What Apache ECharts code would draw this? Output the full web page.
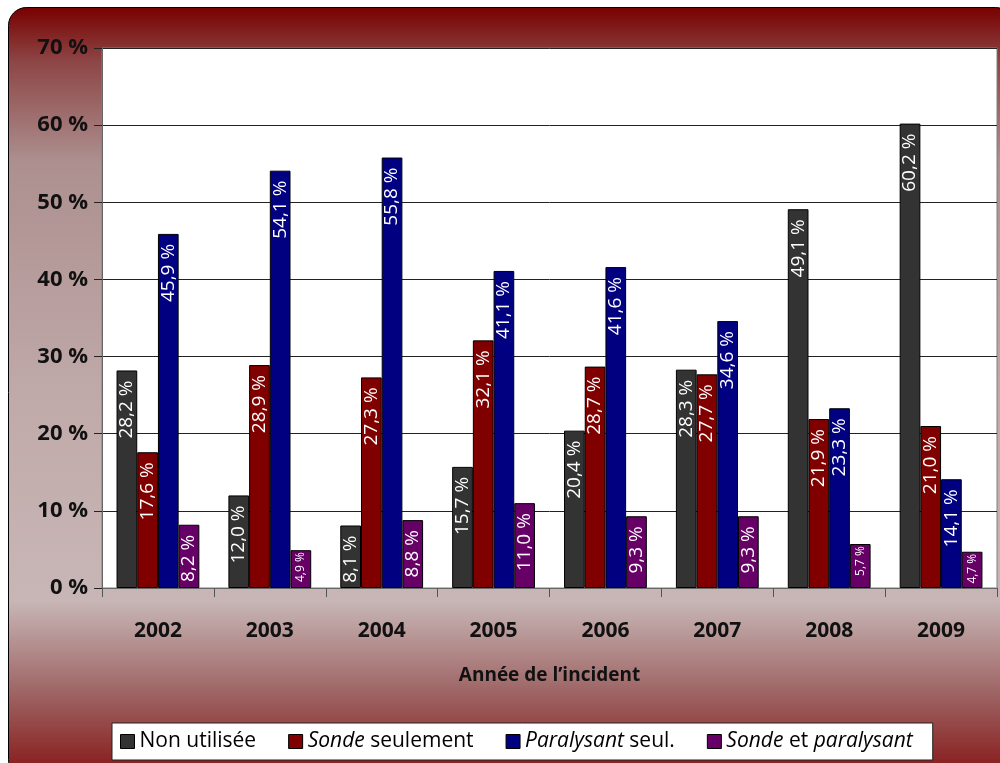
<!DOCTYPE html>
<html>
<head>
<meta charset="utf-8">
<script src="https://cdn.jsdelivr.net/npm/echarts@6/dist/echarts.min.js"></script>
<style>
html,body{margin:0;padding:0;background:#fff;}
#c{width:1000px;height:763px;}
</style>
</head>
<body>
<div id="c"></div>
<script>
const categories = ['2002','2003','2004','2005','2006','2007','2008','2009'];
const seriesNames = ['Non utilisée','Sonde seulement','Paralysant seul.','Sonde et paralysant'];
const legendLabels = ['Non utilisée','{i|Sonde} seulement','{i|Paralysant} seul.','{i|Sonde} et {i|paralysant}'];
const nonUtilisee = [28.2, 12.0, 8.1, 15.7, 20.4, 28.3, 49.1, 60.2];
const sondeSeulement = [17.6, 28.9, 27.3, 32.1, 28.7, 27.7, 21.9, 21.0];
const paralysantSeul = [45.9, 54.1, 55.8, 41.1, 41.6, 34.6, 23.3, 14.1];
const sondeEtParalysant = [8.2, 4.9, 8.8, 11.0, 9.3, 9.3, 5.7, 4.7];
const yTicks = [0, 10, 20, 30, 40, 50, 60, 70];
const colors = ['#333333', '#800000', '#000080', '#660066'];
const allValues = [nonUtilisee, sondeSeulement, paralysantSeul, sondeEtParalysant];

const chart = echarts.init(document.getElementById('c'));
const FONT = '"Open Sans", "DejaVu Sans", sans-serif';
const fmt = p => p.value.toFixed(1).replace('.', ',') + ' %';

const option = {
  animation: false,
  graphic: [{
    type: 'rect',
    z: -10,
    silent: true,
    shape: {x: 8.5, y: 7.5, width: 1005, height: 770, r: 18},
    style: {
      stroke: '#000', lineWidth: 1,
      fill: new echarts.graphic.LinearGradient(0, 0, 0, 1, [
        {offset: 0, color: '#780000'},
        {offset: 0.07, color: '#8d4545'},
        {offset: 0.2, color: '#ad8f8f'},
        {offset: 0.5, color: '#c0a9a9'},
        {offset: 0.77, color: '#c8b6b6'},
        {offset: 0.89, color: '#9e6464'},
        {offset: 1, color: '#861515'}
      ])
    }
  }],
  grid: {
    left: 102, right: 3, top: 48, bottom: 175,
    show: true, backgroundColor: '#ffffff', borderColor: '#808080', borderWidth: 1,
    containLabel: false
  },
  legend: {
    data: seriesNames,
    left: 112, top: 723,
    backgroundColor: '#ffffff',
    borderColor: '#222', borderWidth: 1,
    padding: [8, 20, 8, 8],
    itemGap: 32,
    itemWidth: 14, itemHeight: 14,
    icon: 'rect',
    itemStyle: {borderColor: '#000', borderWidth: 1},
    formatter: name => legendLabels[seriesNames.indexOf(name)],
    textStyle: {
      fontFamily: FONT, fontSize: 21, color: '#000',
      rich: {i: {fontFamily: FONT, fontSize: 21, fontStyle: 'italic', color: '#000'}}
    }
  },
  xAxis: {
    type: 'category',
    data: categories,
    name: 'Année de l\u2019incident',
    nameLocation: 'middle',
    nameGap: 78,
    nameTextStyle: {fontFamily: FONT, fontSize: 19, fontWeight: 'bold', color: '#111'},
    axisLine: {show: true, lineStyle: {color: '#666', width: 1}},
    axisTick: {show: true, length: 9, lineStyle: {color: '#555'}},
    axisLabel: {margin: 33, fontFamily: FONT, fontSize: 21, fontWeight: 'bold', color: '#111'},
    splitLine: {show: false}
  },
  yAxis: {
    type: 'value',
    min: 0, max: 70, interval: 10,
    axisLine: {show: true, lineStyle: {color: '#666'}},
    axisTick: {show: true, length: 8, lineStyle: {color: '#222'}},
    axisLabel: {
      margin: 14, fontFamily: FONT, fontSize: 22, fontWeight: 'bold', color: '#111',
      formatter: v => yTicks.includes(v) ? v + ' %' : ''
    },
    splitLine: {show: true, lineStyle: {color: '#222', width: 1}}
  },
  series: seriesNames.map((n, i) => ({
    type: 'bar',
    name: n,
    barGap: '0%',
    barCategoryGap: '26%',
    itemStyle: {color: colors[i], borderColor: '#000', borderWidth: 1},
    label: {
      show: true, position: 'insideTop', rotate: 90, align: 'right', verticalAlign: 'middle',
      distance: 10, color: '#fff', fontFamily: FONT, fontSize: 19, formatter: fmt
    },
    data: allValues[i].map(v => v < 6 ? {value: v, label: {fontSize: 12, distance: 2}} : v)
  }))
};
chart.setOption(option);
</script>
</body>
</html>
